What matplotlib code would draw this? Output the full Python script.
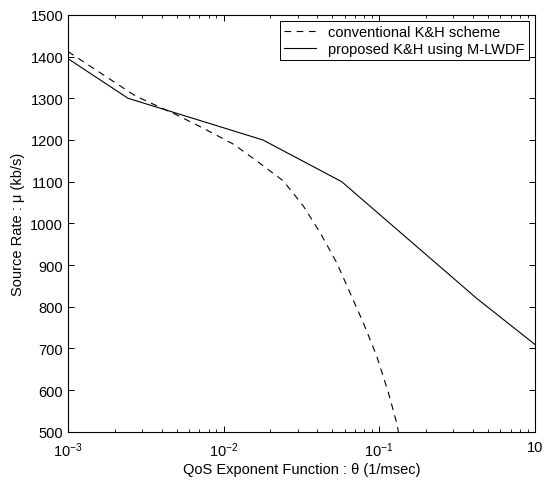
import matplotlib
matplotlib.use("Agg")
import matplotlib.pyplot as plt
from matplotlib.ticker import LogLocator, NullFormatter, FixedLocator

plt.rcParams['font.family'] = ['Liberation Sans', 'DejaVu Sans']
plt.rcParams['mathtext.fontset'] = 'custom'
plt.rcParams['mathtext.rm'] = 'Liberation Sans'
plt.rcParams['mathtext.it'] = 'Liberation Sans:italic'

# conventional K&H scheme (dashed)
theta_conv = [1e-3, 2.7e-3, 5.0e-3, 7.6e-3, 1.155e-2, 1.63e-2, 2.42e-2, 3.25e-2,
              4.17e-2, 5.33e-2, 6.49e-2, 7.9e-2, 9.64e-2, 1.146e-1, 1.295e-1, 1.33e-1]
rate_conv = [1412, 1306, 1260, 1226, 1190, 1150, 1102, 1042,
             978, 906, 834, 762, 682, 594, 522, 500]

# proposed K&H using M-LWDF (solid)
theta_prop = [1e-3, 2.43e-3, 1.79e-2, 5.74e-2, 4.24e-1, 1.0]
rate_prop = [1395, 1300, 1200, 1100, 820, 710]

xtick_vals = [1e-3, 1e-2, 1e-1, 1.0]
xtick_labels = [r'$10^{-3}$', r'$10^{-2}$', r'$10^{-1}$', '10']
ytick_vals = [500, 600, 700, 800, 900, 1000, 1100, 1200, 1300, 1400, 1500]

fig = plt.figure(figsize=(5.53, 4.81), dpi=100)
ax = fig.add_axes([0.123, 0.1, 0.844, 0.867])

ax.plot(theta_conv, rate_conv, color='black', lw=0.8, linestyle=(0, (6, 5)),
        label='conventional K&H scheme')
ax.plot(theta_prop, rate_prop, color='black', lw=0.8, label='proposed K&H using M-LWDF')

ax.set_xscale('log')
ax.set_xlim(1e-3, 1.0)
ax.set_ylim(500, 1500)
ax.xaxis.set_major_locator(FixedLocator(xtick_vals))
ax.set_xticklabels(xtick_labels)
ax.xaxis.set_minor_locator(LogLocator(base=10, subs=range(2, 10)))
ax.xaxis.set_minor_formatter(NullFormatter())
ax.set_yticks(ytick_vals)

ax.tick_params(which='both', direction='in', top=True, right=True, labelsize=10.5)
ax.tick_params(which='major', length=4, width=0.7)
ax.tick_params(which='minor', length=2.5, width=0.6)
ax.tick_params(axis='x', pad=6)
for s in ax.spines.values():
    s.set_linewidth(0.8)

ax.set_xlabel('QoS Exponent Function : θ (1/msec)', fontsize=10.5, labelpad=2)
ax.set_ylabel('Source Rate : μ (kb/s)', fontsize=10.5, labelpad=4)

leg = ax.legend(loc='upper right', fontsize=10.5, fancybox=False, framealpha=1,
                edgecolor='black', borderpad=0.3, handlelength=2.2,
                borderaxespad=0.4, labelspacing=0.2)
leg.get_frame().set_linewidth(0.7)

fig.savefig('out.png', dpi=100)
